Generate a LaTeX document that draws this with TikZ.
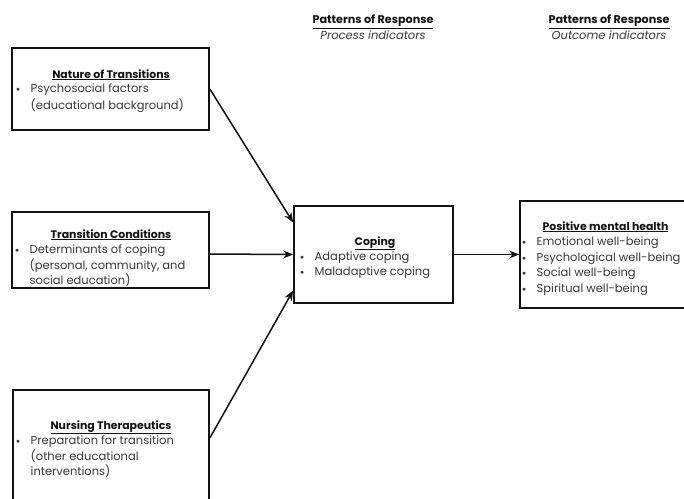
\documentclass[tikz,border=0pt]{standalone}
\usepackage{fontspec}
\setmainfont{Poppins}
\usetikzlibrary{arrows.meta}
\definecolor{bodygray}{HTML}{383838}
\definecolor{inkdark}{HTML}{121212}
% bullet item and continuation line
\newcommand{\bitem}[1]{\makebox[14.5pt][l]{\raisebox{1pt}{\scriptsize$\bullet$}}#1}
\newcommand{\bcont}[1]{\hspace*{14.5pt}#1}
\newcommand{\headtitle}[1]{\underline{\textbf{#1}}}
\tikzset{
  box/.style={draw=inkdark, line width=1.7pt, rectangle, inner sep=0pt},
  ttl/.style={anchor=base, inner sep=0pt, text=inkdark,
    font=\fontsize{10.9}{15}\selectfont},
  subttl/.style={anchor=base, inner sep=0pt, text=bodygray,
    font=\fontsize{11.5}{15}\selectfont\itshape},
  bodytxt/.style={anchor=base west, inner sep=0pt, text=bodygray,
    font=\fontsize{11.5}{15.5}\selectfont},
  link/.style={draw=inkdark, line width=1.5pt,
    -{Stealth[length=10pt,width=8pt]}},
}
\begin{document}
\begin{tikzpicture}[x=1pt,y=-1pt]
\useasboundingbox (0,0) rectangle (684,498);
\clip (0,0) rectangle (684,498);

% column headings
\node[ttl, font=\fontsize{11.2}{15}\selectfont] (h1) at (373,23.5) {\headtitle{Patterns of Response}};
\node[subttl] (h1s) at (373,39) {Process indicators};
\node[ttl, font=\fontsize{11.2}{15}\selectfont] (h2) at (609,23.5) {\headtitle{Patterns of Response}};
\node[subttl] (h2s) at (609,39) {Outcome indicators};

% boxes
\node[box, minimum width=197pt, minimum height=82pt] (n1) at (110.5,89) {};
\node[box, minimum width=197pt, minimum height=76pt] (n2) at (110.5,250) {};
\node[box, minimum width=196pt, minimum height=130pt] (n3) at (111,455) {};
\node[box, minimum width=159pt, minimum height=97pt] (cop) at (373.5,254.5) {};
\node[box, minimum width=184pt, minimum height=107pt] (pmh) at (612,254.5) {};

% box contents
\node[ttl] (n1t) at (111,78) {\headtitle{Nature of Transitions}};
\node[bodytxt] (n1b) at (16,92.5) {\begin{tabular}[t]{@{}l@{}}
  \bitem{Psychosocial factors}\\[1.5pt]
  \bcont{(educational background)}\end{tabular}};

\node[ttl] (n2t) at (111,238) {\headtitle{Transition Conditions}};
\node[bodytxt] (n2b) at (15,253.5) {\begin{tabular}[t]{@{}l@{}}
  \bitem{Determinants of coping}\\
  \bcont{(personal, community, and}\\
  \bcont{social education)}\end{tabular}};

\node[ttl] (n3t) at (111,429) {\headtitle{Nursing Therapeutics}};
\node[bodytxt] (n3b) at (16,444.5) {\begin{tabular}[t]{@{}l@{}}
  \bitem{Preparation for transition}\\
  \bcont{(other educational}\\
  \bcont{interventions)}\end{tabular}};

\node[ttl] (copt) at (375,245) {\headtitle{Coping}};
\node[bodytxt] (copb) at (300,260) {\begin{tabular}[t]{@{}l@{}}
  \bitem{Adaptive coping}\\
  \bitem{Maladaptive coping}\end{tabular}};

\node[ttl] (pmht) at (605.5,230) {\headtitle{Positive mental health}};
\node[bodytxt] (pmhb) at (522,245.5) {\begin{tabular}[t]{@{}l@{}}
  \bitem{Emotional well-being}\\
  \bitem{Psychological well-being}\\
  \bitem{Social well-being}\\
  \bitem{Spiritual well-being}\end{tabular}};

% connectors
\draw[link] (n1.east) -- ([yshift=32pt]cop.west);
\draw[link] ([yshift=-4pt]n2.east) -- (cop.west);
\draw[link] ([yshift=17pt]n3.east) -- ([yshift=-36pt]cop.west);
\draw[link] (cop.east) -- (cop.east -| pmh.west);
\end{tikzpicture}
\end{document}
